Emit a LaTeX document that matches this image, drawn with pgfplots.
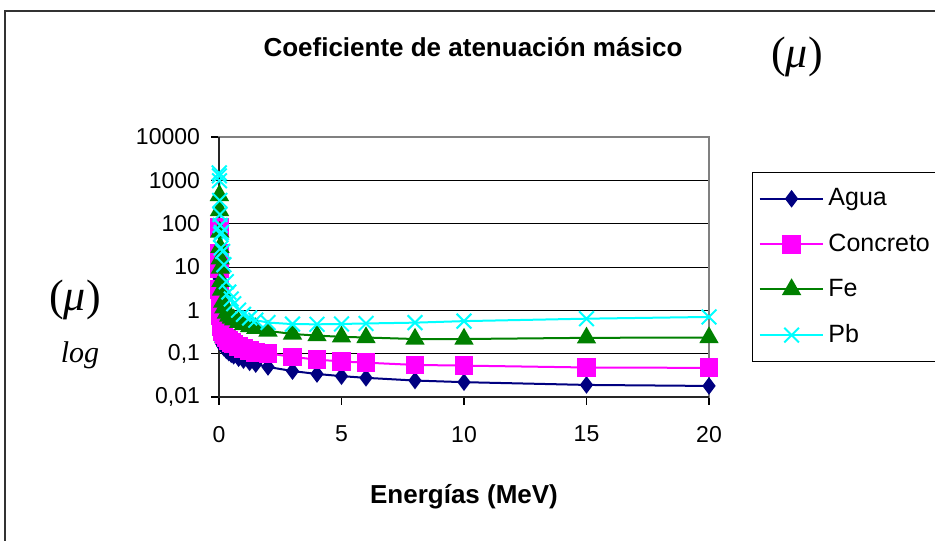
\documentclass[border=0pt]{standalone}
\usepackage{fontspec}
\setmainfont{Liberation Sans}
\newfontfamily\timesf{Liberation Serif}
\usepackage{pgfplots}
\pgfplotsset{compat=1.18}
\definecolor{agua}{HTML}{000080}
\definecolor{concreto}{HTML}{FF00FF}
\definecolor{hierro}{HTML}{008000}
\definecolor{plomo}{HTML}{00FFFF}

% coeficientes lineales (1/cm)
\pgfplotstableread{
E      mu
0.01   5.33
0.015  1.67
0.02   0.81
0.03   0.376
0.04   0.268
0.05   0.227
0.06   0.206
0.08   0.184
0.1    0.171
0.15   0.151
0.2    0.137
0.3    0.119
0.4    0.106
0.5    0.0969
0.6    0.0896
0.8    0.0787
1      0.0707
1.25   0.0632
1.5    0.0575
2      0.0494
3      0.0397
4      0.0340
5      0.0303
6      0.0277
8      0.0240
10     0.0220
15     0.0190
20     0.0180
}\agua
\pgfplotstableread{
E      mu
0.01   80
0.015  20.5
0.02   9.06
0.03   3.01
0.04   1.53
0.05   1.01
0.06   0.745
0.08   0.520
0.1    0.421
0.15   0.323
0.2    0.278
0.3    0.231
0.4    0.203
0.5    0.183
0.6    0.168
0.8    0.147
1      0.132
1.25   0.118
1.5    0.108
2      0.102
3      0.084
4      0.073
5      0.066
6      0.062
8      0.055
10     0.053
15     0.048
20     0.047
}\concreto
\pgfplotstableread{
E      mu
0.015  449
0.02   202
0.03   64.4
0.04   28.6
0.05   15.4
0.06   9.49
0.08   4.69
0.1    2.93
0.15   1.55
0.2    1.15
0.3    0.865
0.4    0.740
0.5    0.663
0.6    0.607
0.8    0.527
1      0.472
1.25   0.421
1.5    0.384
2      0.335
3      0.285
4      0.261
5      0.245
6      0.236
8      0.218
10     0.218
15     0.232
20     0.236
}\hierro
\pgfplotstableread{
E      mu
0.01   1482
0.015  1267
0.02   980
0.03   344
0.04   163
0.05   91.3
0.06   57.0
0.08   27.5
0.1    63.0
0.15   22.9
0.2    11.3
0.3    4.58
0.4    2.64
0.5    1.83
0.6    1.42
0.8    1.01
1      0.806
1.25   0.667
1.5    0.593
2      0.523
3      0.481
4      0.476
5      0.485
6      0.498
8      0.520
10     0.564
15     0.642
20     0.704
}\plomo

\begin{document}
\begin{tikzpicture}[x=0.5pt,y=-0.5pt]
\useasboundingbox (0,0) rectangle (935,540);
\draw[line width=0.9pt,black!80] (5,550) -- (5,11) -- (950,11);

\begin{axis}[
  at={(109.5pt,-198.5pt)}, anchor=south west,
  scale only axis, width=245pt, height=130pt,
  xmin=0, xmax=20, ymode=log, ymin=0.01, ymax=10000,
  xtick={0,5,10,15,20}, xticklabels={0,5,10,15,20},
  ytick={0.01,0.1,1,10,100,1000,10000},
  yticklabels={{0,01},{0,1},1,10,100,1000,10000},
  minor ytick={}, log basis y=10,
  xtick pos=bottom, ytick pos=left,
  tick label style={font=\fontsize{11.5}{13}\selectfont},
  xticklabel style={yshift=-7pt},
  yticklabel style={xshift=-2pt},
  tick align=outside, major tick length=4pt,
  tick style={black, line width=0.6pt},
  axis line style={draw=gray, line width=0.7pt},
  ymajorgrids=true, grid style={black, line width=0.5pt},
  xlabel={\fontsize{13}{15}\selectfont\bfseries Energías (MeV)},
  xlabel style={yshift=-14pt},
  legend style={at={(1.088,0.865)}, anchor=north west, draw=black,
    line width=0.6pt, font=\fontsize{12.5}{14}\selectfont,
    row sep=8.5pt, inner xsep=3pt, inner ysep=6pt},
  legend cell align=left,
  legend image code/.code={\draw[mark repeat=2,mark phase=2]
    plot coordinates {(0cm,0cm) (0.56cm,0cm) (1.12cm,0cm)};},
  every axis plot/.append style={line width=1pt},
  clip=false,
]
\addplot[agua, mark=diamond*, mark size=3.6pt, mark options={solid}] table[x=E,y=mu] {\agua};
\addlegendentry{Agua}
\addplot[concreto, mark=square*, mark size=4.2pt] table[x=E,y=mu] {\concreto};
\addlegendentry{Concreto}
\addplot[hierro, mark=triangle*, mark size=4.6pt] table[x=E,y=mu] {\hierro};
\addlegendentry{Fe}
\addplot[plomo, mark=x, mark size=5.2pt] table[x=E,y=mu] {\plomo};
\addlegendentry{Pb}
\draw[black!85, line width=0.8pt] (axis description cs:0,1) -- (axis description cs:0,0) -- (axis description cs:1,0);
\end{axis}

\node[font=\fontsize{13}{15}\selectfont\bfseries] at (473,47) {Coeficiente de atenuación másico};
\node[font=\timesf\fontsize{22}{24}\selectfont] at (797,57) {(\textit{μ})};
\node[font=\timesf\fontsize{22}{24}\selectfont] at (75,300) {(\textit{μ})};
\node[font=\timesf\itshape\fontsize{15}{17}\selectfont] at (80,355) {log};
\end{tikzpicture}
\end{document}
